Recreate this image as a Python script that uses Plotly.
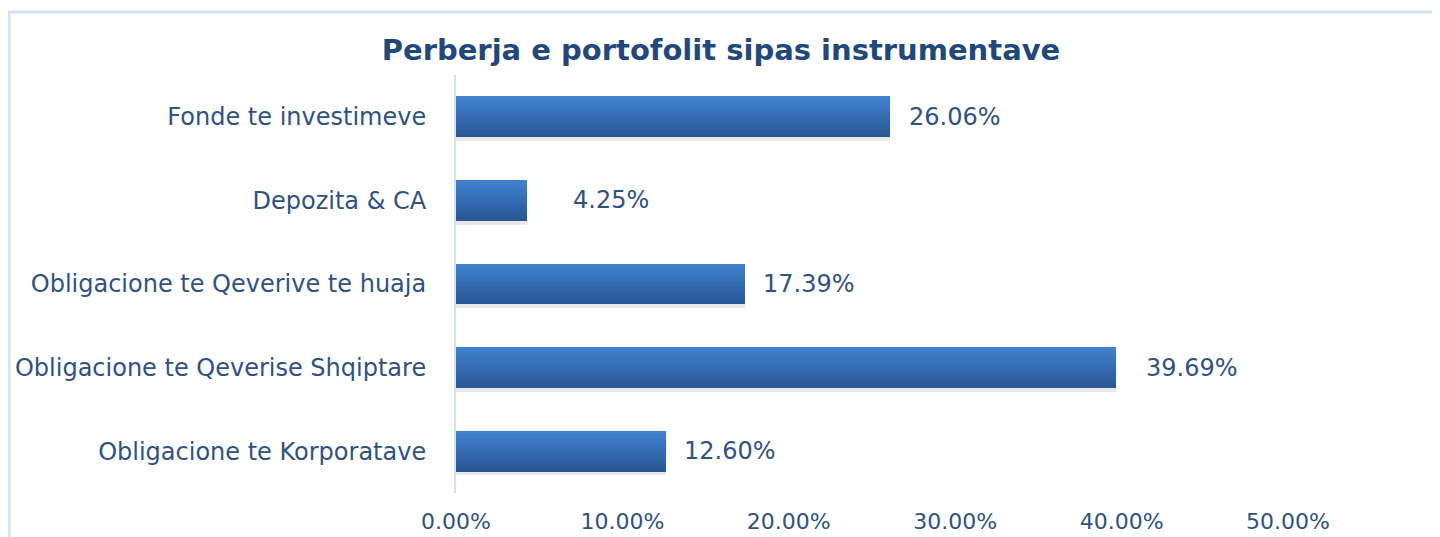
import plotly.graph_objects as go

categories = [
    "Fonde te investimeve",
    "Depozita & CA",
    "Obligacione te Qeverive te huaja",
    "Obligacione te Qeverise Shqiptare",
    "Obligacione te Korporatave",
]
values = [0.2606, 0.0425, 0.1739, 0.3969, 0.1260]
value_labels = ["26.06%", "4.25%", "17.39%", "39.69%", "12.60%"]
label_gaps = [17, 44, 16, 28, 16]
tick_values = [0.0, 0.1, 0.2, 0.3, 0.4, 0.5]
tick_labels = ["0.00%", "10.00%", "20.00%", "30.00%", "40.00%", "50.00%"]

# the page body adds an 8px margin; lay out in page pixels minus that offset
OFF = 8
PAGE_W, PAGE_H = 1440, 537
W, H = PAGE_W - OFF, PAGE_H - OFF
L = 456 - OFF
R = W - (1288 - OFF)
T = 75 - OFF
B = H - (493 - OFF)
text_col = "#2E5283"
FONT = "DejaVu Sans"
bar_w = 0.49

fig = go.Figure()

# soft shadow
fig.add_trace(go.Bar(
    y=categories, x=values, orientation="h",
    width=bar_w, offset=-bar_w / 2 + 0.045,
    marker=dict(color="rgba(0,0,0,0.09)", line=dict(width=0)),
    hoverinfo="skip", showlegend=False,
))

# stepped gradient: dark bottom -> light top
top = (0x3F, 0x81, 0xCF)
bot = (0x2A, 0x57, 0x95)
steps = 12
for k in range(steps):
    f = k / (steps - 1)
    c = tuple(int(round(bot[i] + (top[i] - bot[i]) * f)) for i in range(3))
    w = bar_w * (1 - k / steps)
    fig.add_trace(go.Bar(
        y=categories, x=values, orientation="h",
        width=w, offset=-bar_w / 2,
        marker=dict(color="rgb(%d,%d,%d)" % c, line=dict(width=0)),
        hoverinfo="skip", showlegend=False,
    ))

for cat, v, lab, g in zip(categories, values, value_labels, label_gaps):
    fig.add_annotation(
        x=v, y=cat, text=lab, showarrow=False,
        xanchor="left", yanchor="middle", xshift=g,
        font=dict(family=FONT, size=24, color=text_col),
    )

# outer chart border (bottom edge lies below the visible page)
pw, ph = W - L - R, H - T - B
fig.add_shape(
    type="rect", xref="paper", yref="paper",
    x0=(9 - OFF - L) / pw, x1=(1436 - OFF - L) / pw,
    y0=(H - B - 560) / ph, y1=(H - B - (12 - OFF)) / ph,
    line=dict(color="#D6E2F3", width=3), fillcolor="rgba(0,0,0,0)", layer="below",
)

fig.update_layout(
    width=W, height=H,
    margin=dict(l=L, r=R, t=T, b=B, autoexpand=False),
    paper_bgcolor="white", plot_bgcolor="white",
    barmode="overlay", bargap=0,
    title=dict(
        text="<b>Perberja e portofolit sipas instrumentave</b>",
        xref="container", x=(721 - OFF) / W, xanchor="center",
        yref="container", y=1 - (50 - OFF) / H, yanchor="middle",
        font=dict(family=FONT, size=29, color="#1F497D"),
    ),
    xaxis=dict(
        range=[0, 0.5], tickvals=tick_values, ticktext=tick_labels,
        showgrid=False, zeroline=False, showline=False, automargin=False,
        ticks="", ticklabelstandoff=13,
        tickfont=dict(family=FONT, size=22, color=text_col),
    ),
    yaxis=dict(
        autorange="reversed", showgrid=False, zeroline=False, automargin=False,
        showline=True, linecolor="#D4E1F2", linewidth=2,
        ticks="", ticklabelstandoff=23,
        tickfont=dict(family=FONT, size=24, color=text_col),
    ),
)

fig.write_html("out.html")
